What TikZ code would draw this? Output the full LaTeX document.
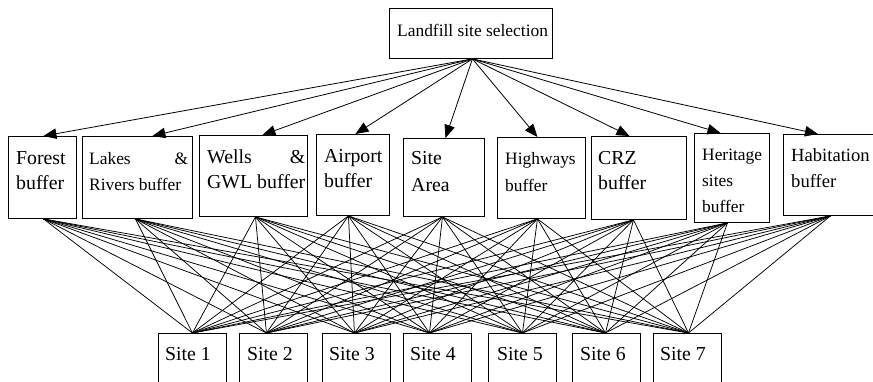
\documentclass[tikz,border=0pt]{standalone}
\usepackage{fontspec}
\setmainfont{Liberation Serif}
\usetikzlibrary{arrows.meta}
\begin{document}
\begin{tikzpicture}[x=1pt,y=-1pt,
  box/.style={draw=black, line width=0.9pt, inner sep=0pt, anchor=north west},
  lbl/.style={anchor=base west, inner sep=0pt, align=left},
  big/.style={font=\fontsize{19.8}{25}\selectfont},
  small/.style={font=\fontsize{17.4}{25.5}\selectfont},
  arr/.style={line width=0.8pt, -{Triangle[length=13pt,width=10.5pt]}},
  link/.style={line width=0.75pt}]
\useasboundingbox (0,0) rectangle (873,381);
\clip (0,0) rectangle (873,381);

% top box
\node[box, minimum width=163pt, minimum height=50pt] (top) at (389,8) {};
\node[lbl, small] (toptxt) at (397,36) {Landfill site selection};

% middle boxes
\node[box, minimum width=68pt,  minimum height=82pt] (forest)     at (8,136)   {};
\node[box, minimum width=110pt, minimum height=82pt] (lakes)      at (82,136)  {};
\node[box, minimum width=108pt, minimum height=81pt] (wells)      at (199,135) {};
\node[box, minimum width=73pt,  minimum height=81pt] (airport)    at (316,134) {};
\node[box, minimum width=81pt,  minimum height=78pt] (area)       at (403,138) {};
\node[box, minimum width=88pt,  minimum height=81pt] (highways)   at (497,137) {};
\node[box, minimum width=95pt,  minimum height=83pt] (crz)        at (591,136) {};
\node[box, minimum width=75pt,  minimum height=89pt] (heritage)   at (694,133) {};
\node[box, minimum width=92pt,  minimum height=81pt] (habitation) at (783,134) {};

% labels (anchor = baseline of the last line)
\node[lbl, big]   (forestt)   at (16,189)  {Forest\\buffer};
\node[lbl, small] (lakest)    at (89,190)  {\makebox[99pt][l]{Lakes\hfill\&}\\Rivers buffer};
\node[lbl, big]   (wellst)    at (207,188) {\makebox[98pt][l]{Wells\hfill\&}\\GWL buffer};
\node[lbl, big]   (airportt)  at (324,187) {Airport\\buffer};
\node[lbl, big]   (areat)     at (411,191) {Site\\[2pt]Area};
\node[lbl, small] (highwayst) at (505,191) {Highways\\[1pt]buffer};
\node[lbl, big]   (crzt)      at (598,189) {CRZ\\buffer};
\node[lbl, small] (heritaget) at (702,212) {Heritage\\[0.5pt]sites\\[0.5pt]buffer};
\node[lbl, font=\fontsize{18.6}{26}\selectfont] (habitationt) at (791,187) {Habitation\\buffer};

% site boxes
\foreach \n/\x in {s1/158, s2/239, s3/322, s4/403, s5/488, s6/572, s7/653}{
  \node[box, minimum width=68pt, minimum height=80pt] (\n) at (\x,333) {};
}
\node[lbl, big] (s1t) at (165,360) {Site 1};
\node[lbl, big] (s2t) at (247,360) {Site 2};
\node[lbl, big] (s3t) at (329,360) {Site 3};
\node[lbl, big] (s4t) at (410,360) {Site 4};
\node[lbl, big] (s5t) at (497,360) {Site 5};
\node[lbl, big] (s6t) at (580,360) {Site 6};
\node[lbl, big] (s7t) at (660,360) {Site 7};

% arrows from top
\coordinate (topb) at ([xshift=1.5pt]top.south);
\draw[arr] (topb) -- ([xshift=1pt]forest.north);
\draw[arr] (topb) -- ([xshift=15pt]lakes.north);
\draw[arr] (topb) -- ([xshift=9pt]wells.north);
\draw[arr] (topb) -- ([xshift=2.5pt]airport.north);
\draw[arr] (topb) -- ([xshift=1.5pt]area.north);
\draw[arr] (topb) -- ([xshift=-4pt]highways.north);
\draw[arr] (topb) -- ([xshift=-9.5pt]crz.north);
\draw[arr] (topb) -- ([xshift=-11.5pt]heritage.north);
\draw[arr] (topb) -- ([xshift=-11.5pt]habitation.north);

% bottom connection points of middle boxes
\coordinate (forest-b)     at ([xshift=1pt]forest.south);
\coordinate (lakes-b)      at ([xshift=-2pt]lakes.south);
\coordinate (wells-b)      at ([xshift=2pt]wells.south);
\coordinate (airport-b)    at ([xshift=-4.5pt]airport.south);
\coordinate (area-b)       at ([xshift=-1.5pt]area.south);
\coordinate (highways-b)   at ([xshift=-4pt]highways.south);
\coordinate (crz-b)        at ([xshift=-5.5pt]crz.south);
\coordinate (heritage-b)   at ([xshift=-4.5pt]heritage.south);
\coordinate (habitation-b) at ([xshift=1pt]habitation.south);

% top connection points of sites
\coordinate (s1-t) at (s1.north);
\coordinate (s2-t) at ([xshift=-7pt]s2.north);
\coordinate (s3-t) at ([xshift=-2pt]s3.north);
\coordinate (s4-t) at ([xshift=-8pt]s4.north);
\coordinate (s5-t) at (s5.north);
\coordinate (s6-t) at ([xshift=-1pt]s6.north);
\coordinate (s7-t) at ([xshift=1pt]s7.north);

\foreach \m in {forest,lakes,wells,airport,area,highways,crz,heritage,habitation}{
  \foreach \s in {s1,s2,s3,s4,s5,s6,s7}{
    \draw[link] (\m-b) -- (\s-t);
  }
}
\end{tikzpicture}
\end{document}
